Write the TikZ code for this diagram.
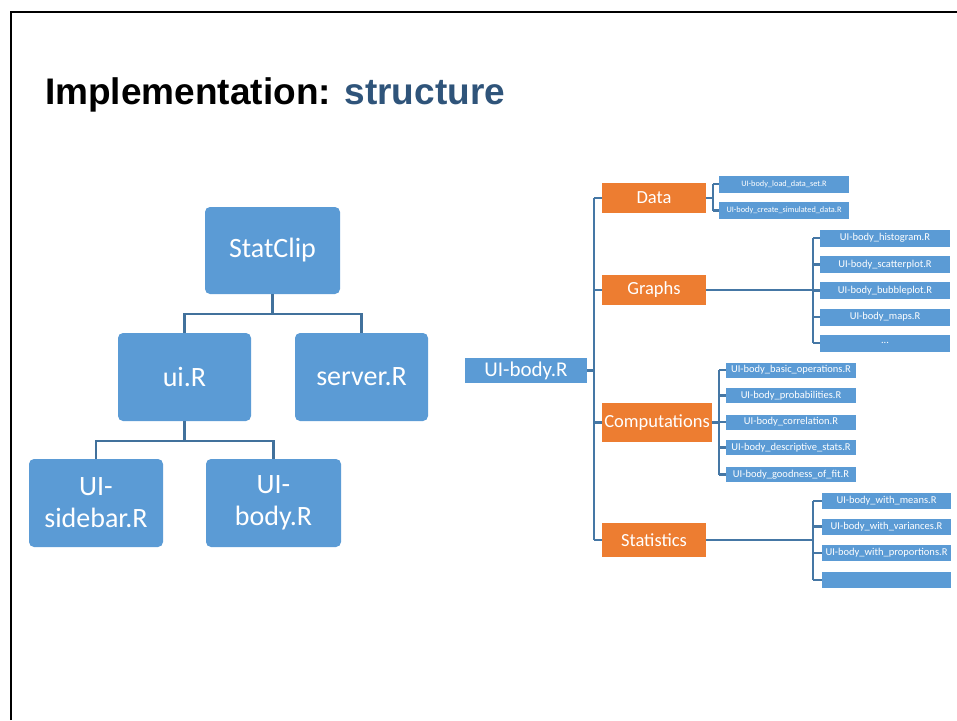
\documentclass[tikz,border=0pt]{standalone}
\usepackage{fontspec}
\setmainfont{Carlito}
\newfontfamily\titlefont{Liberation Sans}
\usetikzlibrary{calc}
\definecolor{boxblue}{HTML}{5B9BD5}
\definecolor{boxorange}{HTML}{ED7D31}
\definecolor{linkblue}{HTML}{41719C}
\definecolor{titleblue}{HTML}{2F547A}
\begin{document}
\begin{tikzpicture}[x=1pt,y=-1pt,
  treebox/.style={fill=boxblue, rounded corners=5pt, text=white, align=center,
    inner sep=0pt, font=\fontsize{28}{32}\selectfont,
    minimum width=134pt, minimum height=88pt},
  filebox/.style={fill=boxblue, text=white, inner sep=0pt,
    font=\fontsize{21}{24}\selectfont, minimum width=122pt, minimum height=25pt},
  groupbox/.style={fill=boxorange, text=white, inner sep=0pt,
    font=\fontsize{18.5}{21}\selectfont, minimum width=104pt, minimum height=30pt},
  leaf/.style={fill=boxblue, text=white, inner sep=0pt,
    font=\fontsize{10.5}{12}\selectfont, minimum width=130pt, minimum height=17pt},
  tinyleaf/.style={leaf, font=\fontsize{8.3}{9}\selectfont, minimum height=17pt},
  conn/.style={draw=linkblue, line width=2.3pt},
  bracket/.style={draw=linkblue!85!boxblue, line width=2.4pt},
  frameline/.style={draw=black, line width=2.5pt}]

\useasboundingbox (0,0) rectangle (957,720);

% slide frame
\draw[frameline] (11,720) -- (11,12) -- (957,12);

% title
\node[anchor=base west, inner sep=0pt, font=\titlefont\bfseries\fontsize{37}{40}\selectfont]
  (title) at (45,104) {Implementation: \textcolor{titleblue}{structure}};

% ---- application tree ----
\node[treebox, minimum width=135pt, minimum height=87pt] (statclip) at (272.5,250.5) {StatClip};
\node[treebox, minimum width=133pt] (ui) at (184.5,377) {ui.R};
\node[treebox, minimum width=133pt] (server) at (361.5,377) {server.R};
\node[treebox] (sidebar) at (96,503) {UI-\\sidebar.R};
\node[treebox, minimum width=135pt] (uibody) at (273.5,503) {UI-\\body.R};

\draw[conn] (statclip.south) -- ++(0,20) -| (ui.north);
\draw[conn] (statclip.south) -- ++(0,20) -| (server.north);
\draw[conn] (ui.south) -- ++(0,20) -| (sidebar.north);
\draw[conn] (ui.south) -- ++(0,20) -| (uibody.north);

% ---- UI-body.R breakdown ----
\node[filebox] (body) at (526,370.5) {UI-body.R};

\node[groupbox] (data) at (654,198) {Data};
\node[groupbox] (graphs) at (654,290) {Graphs};
\node[groupbox, minimum width=110pt, minimum height=39pt] (comp) at (657,422.5) {Computations};
\node[groupbox, minimum height=34pt] (stats) at (654,540) {Statistics};

\coordinate (trunk) at (594,370.5);
\draw[bracket] (data.west -| trunk) -- (stats.west -| trunk);
\draw[bracket] (body.east) -- (trunk);
\foreach \g in {data,graphs,comp,stats}
  \draw[bracket] (\g.west -| trunk) -- (\g.west);

% Data files
\node[tinyleaf] (d1) at (784,184) {UI-body\_load\_data\_set.R};
\node[tinyleaf] (d2) at (784,210.5) {UI-body\_create\_simulated\_data.R};
\coordinate (dbr) at (713,198);
\draw[bracket] (data.east) -- (dbr);
\draw[bracket] (d1.west -| dbr) -- (d2.west -| dbr);
\foreach \n in {d1,d2}
  \draw[bracket] (\n.west -| dbr) -- (\n.west);

% Graphs files
\node[leaf] (g1) at (885,238) {UI-body\_histogram.R};
\node[leaf] (g2) at (885,264.5) {UI-body\_scatterplot.R};
\node[leaf] (g3) at (885,290.5) {UI-body\_bubbleplot.R};
\node[leaf] (g4) at (885,317) {UI-body\_maps.R};
\node[leaf] (g5) at (885,343) {...};
\coordinate (gbr) at (813,290);
\draw[bracket] (graphs.east) -- (gbr);
\draw[bracket] (g1.west -| gbr) -- (g5.west -| gbr);
\foreach \n in {g1,g2,g3,g4,g5}
  \draw[bracket] (\n.west -| gbr) -- (\n.west);

% Computations files
\node[leaf, minimum height=15pt] (c1) at (791,370) {UI-body\_basic\_operations.R};
\node[leaf, minimum height=15pt] (c2) at (791,395.5) {UI-body\_probabilities.R};
\node[leaf, minimum height=15pt] (c3) at (791,422) {UI-body\_correlation.R};
\node[leaf, minimum height=15pt] (c4) at (791,447.5) {UI-body\_descriptive\_stats.R};
\node[leaf, minimum height=15pt] (c5) at (791,474.5) {UI-body\_goodness\_of\_fit.R};
\coordinate (cbr) at (719,422.5);
\draw[bracket] (comp.east) -- (cbr);
\draw[bracket] (c1.west -| cbr) -- (c5.west -| cbr);
\foreach \n in {c1,c2,c3,c4,c5}
  \draw[bracket] (\n.west -| cbr) -- (\n.west);

% Statistics files
\node[leaf, minimum width=129pt, minimum height=16pt] (s1) at (886.5,501) {UI-body\_with\_means.R};
\node[leaf, minimum width=129pt, minimum height=16pt] (s2) at (886.5,526.5) {UI-body\_with\_variances.R};
\node[leaf, minimum width=129pt, minimum height=16pt] (s3) at (886.5,553) {UI-body\_with\_proportions.R};
\node[leaf, minimum width=129pt, minimum height=16pt] (s4) at (886.5,580) {};
\coordinate (sbr) at (813,540);
\draw[bracket] (stats.east) -- (sbr);
\draw[bracket] (s1.west -| sbr) -- (s4.west -| sbr);
\foreach \n in {s1,s2,s3,s4}
  \draw[bracket] (\n.west -| sbr) -- (\n.west);
\end{tikzpicture}
\end{document}
